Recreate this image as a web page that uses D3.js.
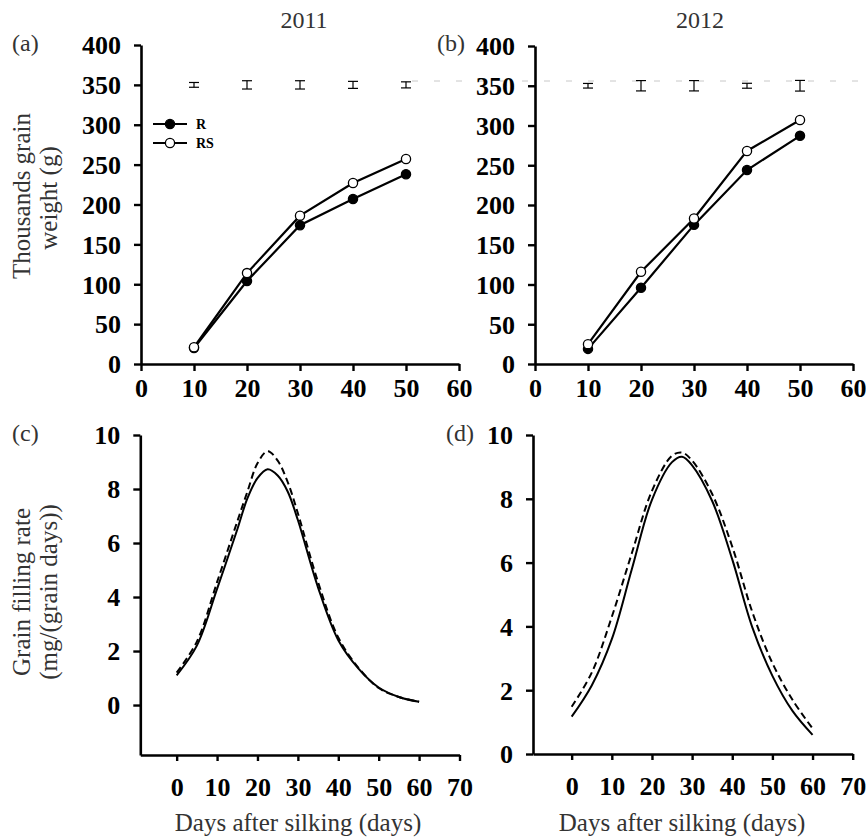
<!DOCTYPE html>
<html><head><meta charset="utf-8">
<script src="https://cdn.jsdelivr.net/npm/d3@7/dist/d3.min.js"></script>
<style>body{margin:0;background:#fff} svg{display:block}</style>
</head><body><svg id="chart" width="866" height="839"></svg>
<script>
// ---------- data ----------
const years = ["2011", "2012"];
const seriesNames = ["R", "RS"];
const sampleDays = [10, 20, 30, 40, 50];
const weightR_2011 = [20, 104, 174, 207, 238];
const weightRS_2011 = [21, 114, 186, 227, 257];
const weightR_2012 = [19, 96, 175, 244, 287];
const weightRS_2012 = [25, 116, 183, 268, 307];
const errR_2011 = [2, 3, 3, 3, 3];
const errRS_2011 = [2, 3, 3, 3, 3];
const errR_2012 = [2, 3, 3, 3, 3];
const errRS_2012 = [2, 3, 3, 3, 3];
const lsd_2011 = [3, 5.2, 5.2, 4.4, 3.8];
const lsd_2012 = [2.9, 6.5, 6.5, 3.1, 6.7];
const lsdLevel = 350;
const weightTicks = [0, 50, 100, 150, 200, 250, 300, 350, 400];
const dayTicksTop = [0, 10, 20, 30, 40, 50, 60];

const rateDays_2011 = [0, 5, 10, 15, 17.5, 20, 22.5, 25, 27.5, 30, 35, 40, 45, 50, 55, 60];
const rateR_2011  = [1.1, 2.2, 4.3, 6.5, 7.65, 8.4, 8.73, 8.5, 7.9, 6.85, 4.35, 2.4, 1.35, 0.65, 0.3, 0.12];
const rateRS_2011 = [1.2, 2.35, 4.55, 6.8, 7.9, 8.95, 9.4, 9.05, 8.25, 7.1, 4.55, 2.5, 1.38, 0.63, 0.3, 0.12];
const rateDays_2012 = [0, 5, 10, 15, 20, 25, 27.5, 30, 35, 40, 45, 50, 55, 60];
const rateR_2012  = [1.17, 2.15, 3.6, 5.8, 7.97, 9.15, 9.32, 9.05, 7.93, 6.1, 3.97, 2.45, 1.35, 0.6];
const rateRS_2012 = [1.48, 2.55, 4.3, 6.3, 8.25, 9.35, 9.45, 9.2, 8.15, 6.5, 4.45, 2.85, 1.7, 0.8];
const rateTicks = [0, 2, 4, 6, 8, 10];
const dayTicksBottom = [0, 10, 20, 30, 40, 50, 60, 70];

// ---------- drawing ----------
const svg = d3.select("#chart");
const tickFont = "bold 26px 'Liberation Serif', 'Times New Roman', serif";
const titleFont = "25px 'Liberation Serif', 'Times New Roman', serif";
const titleColor = "#333";

function styleAxis(g) {
  g.selectAll(".domain").attr("stroke", "#000").attr("stroke-width", 2.6);
  g.selectAll(".tick line").attr("stroke", "#000").attr("stroke-width", 2.4);
  g.selectAll(".tick text").attr("fill", "#000").style("font", tickFont);
}

function weightPanel(xRange, yRange, R, RS, eR, eRS, lsd) {
  const x = d3.scaleLinear().domain([0, 60]).range(xRange);
  const y = d3.scaleLinear().domain([0, 400]).range(yRange);
  const gx = svg.append("g").attr("transform", `translate(0,${yRange[0]})`)
    .call(d3.axisBottom(x).tickValues(dayTicksTop).tickFormat(d3.format("d")).tickSize(7).tickSizeOuter(0).tickPadding(8));
  styleAxis(gx);
  const gy = svg.append("g").attr("transform", `translate(${xRange[0]},0)`)
    .call(d3.axisLeft(y).tickValues(weightTicks).tickFormat(d3.format("d")).tickSize(7).tickSizeOuter(0).tickPadding(13));
  styleAxis(gy);
  gy.selectAll(".tick text").attr("dy", "0.34em");

  // LSD bars
  const lg = svg.append("g").attr("stroke", "#000").attr("stroke-width", 1.2);
  sampleDays.forEach((d, i) => {
    const cx = x(d), y1 = y(lsdLevel - lsd[i]), y2 = y(lsdLevel + lsd[i]);
    lg.append("line").attr("x1", cx).attr("x2", cx).attr("y1", y1).attr("y2", y2);
    lg.append("line").attr("x1", cx - 5).attr("x2", cx + 5).attr("y1", y1).attr("y2", y1);
    lg.append("line").attr("x1", cx - 5).attr("x2", cx + 5).attr("y1", y2).attr("y2", y2);
  });

  const line = d3.line().x((d, i) => x(sampleDays[i])).y(d => y(d));
  [[R, eR, "#000"], [RS, eRS, "#fff"]].forEach(([vals, errs, fill]) => {
    svg.append("path").datum(vals).attr("d", line).attr("fill", "none")
      .attr("stroke", "#000").attr("stroke-width", 2.2);
    const eg = svg.append("g").attr("stroke", "#000").attr("stroke-width", 1.2);
    vals.forEach((v, i) => {
      const cx = x(sampleDays[i]);
      eg.append("line").attr("x1", cx).attr("x2", cx).attr("y1", y(v - errs[i])).attr("y2", y(v + errs[i]));
      eg.append("line").attr("x1", cx - 4).attr("x2", cx + 4).attr("y1", y(v - errs[i])).attr("y2", y(v - errs[i]));
      eg.append("line").attr("x1", cx - 4).attr("x2", cx + 4).attr("y1", y(v + errs[i])).attr("y2", y(v + errs[i]));
    });
    svg.append("g").selectAll("circle").data(vals).join("circle")
      .attr("cx", (d, i) => x(sampleDays[i])).attr("cy", d => y(d)).attr("r", 4.6)
      .attr("fill", fill).attr("stroke", "#000").attr("stroke-width", 1.3);
  });
  return { x, y };
}

function ratePanel(xDomain, xRange, yDomain, yRange, days, R, RS) {
  const x = d3.scaleLinear().domain(xDomain).range(xRange);
  const y = d3.scaleLinear().domain(yDomain).range(yRange);
  const gx = svg.append("g").attr("transform", `translate(0,${yRange[0]})`)
    .call(d3.axisBottom(x).tickValues(dayTicksBottom).tickFormat(d3.format("d")).tickSize(6).tickSizeOuter(0).tickPadding(17));
  styleAxis(gx);
  const gy = svg.append("g").attr("transform", `translate(${xRange[0]},0)`)
    .call(d3.axisLeft(y).tickValues(rateTicks).tickFormat(d3.format("d")).tickSize(7).tickSizeOuter(0).tickPadding(13));
  styleAxis(gy);
  gy.selectAll(".tick text").attr("dy", "0.34em");
  const line = d3.line().x((d, i) => x(days[i])).y(d => y(d)).curve(d3.curveCatmullRom.alpha(0.5));
  svg.append("path").datum(RS).attr("d", line).attr("fill", "none")
    .attr("stroke", "#000").attr("stroke-width", 2).attr("stroke-dasharray", "7,4");
  svg.append("path").datum(R).attr("d", line).attr("fill", "none")
    .attr("stroke", "#000").attr("stroke-width", 2);
}

// faint dashed artifact line near the top
svg.append("line").attr("x1", 412).attr("x2", 866).attr("y1", 81).attr("y2", 81)
  .attr("stroke", "#c8c8c8").attr("stroke-width", 1).attr("stroke-dasharray", "6,16");

weightPanel([141, 459], [364, 45], weightR_2011, weightRS_2011, errR_2011, errRS_2011, lsd_2011);
weightPanel([535, 853], [364, 46], weightR_2012, weightRS_2012, errR_2012, errRS_2012, lsd_2012);
ratePanel([-9, 70], [140.3, 459.5], [-1.85, 10], [755, 435], rateDays_2011, rateR_2011, rateRS_2011);
ratePanel([-9.63, 70], [533, 852.7], [0, 10], [754, 435], rateDays_2012, rateR_2012, rateRS_2012);

// legend (panel a)
const legend = svg.append("g");
[[seriesNames[0], 124, "#000"], [seriesNames[1], 143, "#fff"]].forEach(([name, ly, fill]) => {
  legend.append("line").attr("x1", 153).attr("x2", 187).attr("y1", ly).attr("y2", ly)
    .attr("stroke", "#000").attr("stroke-width", 2.2);
  legend.append("circle").attr("cx", 170).attr("cy", ly).attr("r", 4.6)
    .attr("fill", fill).attr("stroke", "#000").attr("stroke-width", 1.3);
  legend.append("text").attr("x", 196).attr("y", ly + 4.5).text(name)
    .style("font", "bold 14px 'Liberation Serif', 'Times New Roman', serif");
});

// texts
function txt(x, y, s, opts = {}) {
  const t = svg.append("text").attr("x", x).attr("y", y).text(s)
    .style("font", opts.font || titleFont).attr("fill", opts.fill || titleColor)
    .attr("text-anchor", opts.anchor || "start");
  if (opts.rotate) t.attr("transform", `rotate(-90,${x},${y})`);
  return t;
}
const smallFont = "24px 'Liberation Serif', serif";
txt(304, 28, years[0], { anchor: "middle", font: smallFont });
txt(700, 28, years[1], { anchor: "middle", font: smallFont });
txt(12, 51, "(a)", { font: smallFont });
txt(437, 51, "(b)", { font: smallFont });
txt(12, 441, "(c)", { font: smallFont });
txt(446, 441, "(d)", { font: smallFont });
txt(30, 196, "Thousands grain", { anchor: "middle", rotate: true });
txt(57, 198, "weight (g)", { anchor: "middle", rotate: true });
txt(30, 592, "Grain filling rate", { anchor: "middle", rotate: true });
txt(57, 592, "(mg/(grain days))", { anchor: "middle", rotate: true });
txt(298, 831, "Days after silking (days)", { anchor: "middle" });
txt(682, 831, "Days after silking (days)", { anchor: "middle" });
</script>
</body></html>
